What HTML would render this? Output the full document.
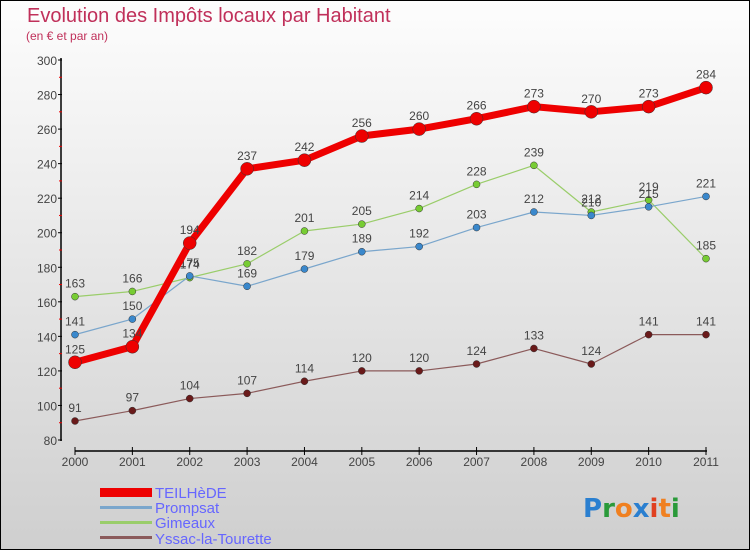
<!DOCTYPE html>
<html><head><meta charset="utf-8"><style>
html,body{margin:0;padding:0}
body{width:750px;height:550px;overflow:hidden;font-family:"Liberation Sans",sans-serif}
#wrap{position:absolute;left:0;top:0;width:748px;height:548px;border:1px solid #000;background:linear-gradient(#fdfdfd,#cfcfcf)}
</style></head><body>
<div id="wrap">
<svg id="chart" width="750" height="550" style="position:absolute;left:-1px;top:-1px">
<text x="27" y="22" font-size="20" fill="#c0305a">Evolution des Impôts locaux par Habitant</text>
<text x="26" y="40" font-size="12" fill="#c0305a">(en € et par an)</text>
<g id="axes"></g><g id="series"></g>
<g font-size="15" fill="#6666ff">
<rect x="100" y="488" width="52" height="9" fill="#e00"/>
<text x="155" y="498">TEILHèDE</text>
<rect x="100" y="506" width="52" height="3" fill="#7aa6cc"/>
<text x="155" y="513">Prompsat</text>
<rect x="100" y="521" width="52" height="3" fill="#9acd6a"/>
<text x="155" y="528">Gimeaux</text>
<rect x="100" y="536" width="52" height="3" fill="#8b5a5a"/>
<text x="155" y="544">Yssac-la-Tourette</text>
</g>
<text x="583" y="517" font-size="26" font-weight="bold" font-family="'DejaVu Sans',sans-serif"><tspan fill="#2a7fd0">P</tspan><tspan fill="#2a9a3a">r</tspan><tspan fill="#f08020">o</tspan><tspan fill="#2a7fd0">x</tspan><tspan fill="#e04020">i</tspan><tspan fill="#f08020">t</tspan><tspan fill="#2a9a3a">i</tspan></text>
</svg>
</div>
<script>
const years=["2000","2001","2002","2003","2004","2005","2006","2007","2008","2009","2010","2011"];
const yTicks=[80,100,120,140,160,180,200,220,240,260,280,300];
const teilhede=[125,134,194,237,242,256,260,266,273,270,273,284];
const prompsat=[141,150,175,169,179,189,192,203,212,210,215,221];
const gimeaux=[163,166,174,182,201,205,214,228,239,212,219,185];
const yssac=[91,97,104,107,114,120,120,124,133,124,141,141];
const NS="http://www.w3.org/2000/svg";
const xs=i=>75+i*(706-75)/11;
const ys=v=>440-(v-80)*(380/220);
function mk(t,a,p){const e=document.createElementNS(NS,t);for(const k in a)e.setAttribute(k,a[k]);p.appendChild(e);return e;}
const ax=document.getElementById('axes');
let e=mk('line',{x1:61,y1:58,x2:61,y2:441,stroke:'#000','stroke-width':1.5},ax);


e=mk('line',{x1:75,y1:451,x2:707,y2:451,stroke:'#000','stroke-width':1.5},ax);


yTicks.forEach((v,i)=>{
  mk('line',{x1:58,x2:62,y1:ys(v),y2:ys(v),stroke:'#000'},ax);
  if(i<yTicks.length-1)mk('line',{x1:59,x2:62,y1:ys(v+10),y2:ys(v+10),stroke:'#e00'},ax);
  const t=mk('text',{x:57,y:ys(v)+5,'text-anchor':'end','font-size':12,fill:'#444'},ax);
  t.textContent=v;
  
  
});
years.forEach((y,i)=>{
  mk('line',{x1:xs(i),x2:xs(i),y1:447,y2:455,stroke:'#000'},ax);
  const t=mk('text',{x:xs(i),y:466,'text-anchor':'middle','font-size':12,fill:'#444'},ax);
  t.textContent=y;
  
  
});
const sg=document.getElementById('series');
function draw(name,vals,color,dot,lw,r){
  const g=mk('g',{},sg);
  
  
  const l=mk('polyline',{points:vals.map((v,i)=>xs(i)+','+ys(v)).join(' '),fill:'none',stroke:color,'stroke-width':lw,'stroke-linejoin':'round'},g);
  
  
  vals.forEach((v,i)=>{
    const c=mk('circle',{cx:xs(i),cy:ys(v),r:r,fill:dot,stroke:'#333','stroke-width':0.5},g);
    
    
    const t=mk('text',{x:xs(i),y:ys(v)-9,'text-anchor':'middle','font-size':12,fill:'#444'},g);
    t.textContent=v;
    
    
  });
}
draw('yssac',yssac,'#8b5a5a','#6a1a1a',1.2,3.5);
draw('gimeaux',gimeaux,'#9acd6a','#77cc33',1.2,3.5);
draw('prompsat',prompsat,'#7aa6cc','#3a88cc',1.2,3.5);
draw('teilhede',teilhede,'#e00','#e00',7,6.5);
</script>
</body></html>
